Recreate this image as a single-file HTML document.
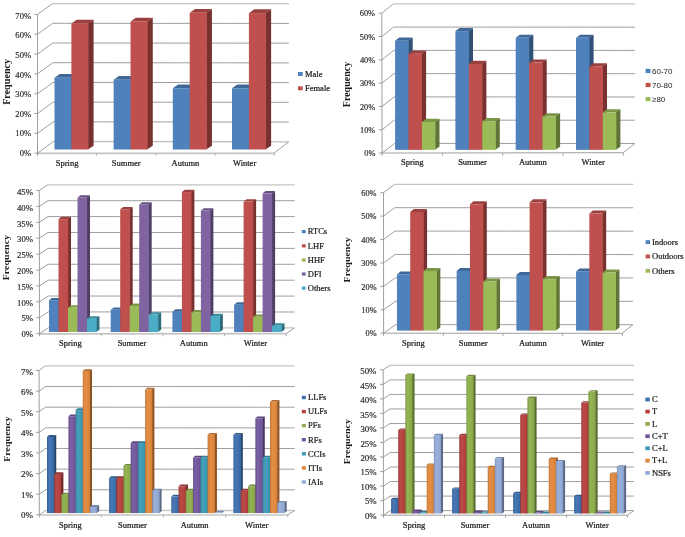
<!DOCTYPE html>
<html><head><meta charset="utf-8"><title>Charts</title>
<style>html,body{margin:0;padding:0;background:#fff;}svg{display:block;}</style>
</head><body>
<svg width="685" height="537" viewBox="0 0 685 537">
<defs><linearGradient id="g4_0" x1="0" x2="1" y1="0" y2="0"><stop offset="0" stop-color="#366299"/><stop offset="0.3" stop-color="#4978b3"/><stop offset="0.75" stop-color="#3d6fae"/><stop offset="1" stop-color="#37649d"/></linearGradient>
<linearGradient id="g4_1" x1="0" x2="1" y1="0" y2="0"><stop offset="0" stop-color="#9f3937"/><stop offset="0.3" stop-color="#b94c4a"/><stop offset="0.75" stop-color="#b5413e"/><stop offset="1" stop-color="#a33a38"/></linearGradient>
<linearGradient id="g4_2" x1="0" x2="1" y1="0" y2="0"><stop offset="0" stop-color="#7c9942"/><stop offset="0.3" stop-color="#94b356"/><stop offset="0.75" stop-color="#8dae4b"/><stop offset="1" stop-color="#7f9d44"/></linearGradient>
<linearGradient id="g4_3" x1="0" x2="1" y1="0" y2="0"><stop offset="0" stop-color="#654d8a"/><stop offset="0.3" stop-color="#7b61a3"/><stop offset="0.75" stop-color="#73579d"/><stop offset="1" stop-color="#684e8d"/></linearGradient>
<linearGradient id="g4_4" x1="0" x2="1" y1="0" y2="0"><stop offset="0" stop-color="#3488a0"/><stop offset="0.3" stop-color="#47a0ba"/><stop offset="0.75" stop-color="#3b9ab6"/><stop offset="1" stop-color="#358ba4"/></linearGradient>
<linearGradient id="g4_5" x1="0" x2="1" y1="0" y2="0"><stop offset="0" stop-color="#c57835"/><stop offset="0.3" stop-color="#e28f48"/><stop offset="0.75" stop-color="#e0883c"/><stop offset="1" stop-color="#ca7a36"/></linearGradient>
<linearGradient id="g4_6" x1="0" x2="1" y1="0" y2="0"><stop offset="0" stop-color="#8296be"/><stop offset="0.3" stop-color="#9ab0da"/><stop offset="0.75" stop-color="#94abd8"/><stop offset="1" stop-color="#859ac2"/></linearGradient>
<linearGradient id="g5_0" x1="0" x2="1" y1="0" y2="0"><stop offset="0" stop-color="#366299"/><stop offset="0.3" stop-color="#4978b3"/><stop offset="0.75" stop-color="#3d6fae"/><stop offset="1" stop-color="#37649d"/></linearGradient>
<linearGradient id="g5_1" x1="0" x2="1" y1="0" y2="0"><stop offset="0" stop-color="#9f3937"/><stop offset="0.3" stop-color="#b94c4a"/><stop offset="0.75" stop-color="#b5413e"/><stop offset="1" stop-color="#a33a38"/></linearGradient>
<linearGradient id="g5_2" x1="0" x2="1" y1="0" y2="0"><stop offset="0" stop-color="#7c9942"/><stop offset="0.3" stop-color="#94b356"/><stop offset="0.75" stop-color="#8dae4b"/><stop offset="1" stop-color="#7f9d44"/></linearGradient>
<linearGradient id="g5_3" x1="0" x2="1" y1="0" y2="0"><stop offset="0" stop-color="#654d8a"/><stop offset="0.3" stop-color="#7b61a3"/><stop offset="0.75" stop-color="#73579d"/><stop offset="1" stop-color="#684e8d"/></linearGradient>
<linearGradient id="g5_4" x1="0" x2="1" y1="0" y2="0"><stop offset="0" stop-color="#3488a0"/><stop offset="0.3" stop-color="#47a0ba"/><stop offset="0.75" stop-color="#3b9ab6"/><stop offset="1" stop-color="#358ba4"/></linearGradient>
<linearGradient id="g5_5" x1="0" x2="1" y1="0" y2="0"><stop offset="0" stop-color="#c57835"/><stop offset="0.3" stop-color="#e28f48"/><stop offset="0.75" stop-color="#e0883c"/><stop offset="1" stop-color="#ca7a36"/></linearGradient>
<linearGradient id="g5_6" x1="0" x2="1" y1="0" y2="0"><stop offset="0" stop-color="#8296be"/><stop offset="0.3" stop-color="#9ab0da"/><stop offset="0.75" stop-color="#94abd8"/><stop offset="1" stop-color="#859ac2"/></linearGradient></defs>
<rect width="685" height="537" fill="#ffffff"/>
<g><polygon points="37.50,153.20 274.20,153.10 288.70,141.80 53.50,141.50" fill="#ffffff"/>
<path d="M53.50 141.50 L288.70 141.80" stroke="#c4c4c4" stroke-width="1.30" fill="none"/>
<path d="M37.50 153.40 L274.20 153.30" stroke="#c4c4c4" stroke-width="1.70" fill="none"/>
<path d="M274.20 153.10 L288.70 141.80" stroke="#949494" stroke-width="0.90" fill="none"/>
<path d="M37.50 155.80 L37.50 14.40" stroke="#949494" stroke-width="0.90" fill="none"/>
<path d="M34.30 153.20 L37.50 153.20" stroke="#949494" stroke-width="0.90" fill="none"/>
<path d="M37.50 153.20 L53.50 141.50" stroke="#949494" stroke-width="0.90" fill="none"/>
<text x="31.10" y="156.14" text-anchor="end" font-family='"Liberation Serif", serif' font-size="8.60" fill="#2a2a2a" stroke="#2a2a2a" stroke-width="0.18">0%</text>
<path d="M34.30 133.37 L37.50 133.37" stroke="#949494" stroke-width="0.90" fill="none"/>
<path d="M37.50 133.37 L53.34 121.80 L288.74 122.07" stroke="#949494" stroke-width="0.90" fill="none" stroke-linejoin="round"/>
<text x="31.10" y="136.48" text-anchor="end" font-family='"Liberation Serif", serif' font-size="8.60" fill="#2a2a2a" stroke="#2a2a2a" stroke-width="0.18">10%</text>
<path d="M34.30 113.54 L37.50 113.54" stroke="#949494" stroke-width="0.90" fill="none"/>
<path d="M37.50 113.54 L53.19 102.10 L288.79 102.34" stroke="#949494" stroke-width="0.90" fill="none" stroke-linejoin="round"/>
<text x="31.10" y="116.82" text-anchor="end" font-family='"Liberation Serif", serif' font-size="8.60" fill="#2a2a2a" stroke="#2a2a2a" stroke-width="0.18">20%</text>
<path d="M34.30 93.71 L37.50 93.71" stroke="#949494" stroke-width="0.90" fill="none"/>
<path d="M37.50 93.71 L53.03 82.40 L288.83 82.61" stroke="#949494" stroke-width="0.90" fill="none" stroke-linejoin="round"/>
<text x="31.10" y="97.17" text-anchor="end" font-family='"Liberation Serif", serif' font-size="8.60" fill="#2a2a2a" stroke="#2a2a2a" stroke-width="0.18">30%</text>
<path d="M34.30 73.89 L37.50 73.89" stroke="#949494" stroke-width="0.90" fill="none"/>
<path d="M37.50 73.89 L52.87 62.70 L288.87 62.89" stroke="#949494" stroke-width="0.90" fill="none" stroke-linejoin="round"/>
<text x="31.10" y="77.51" text-anchor="end" font-family='"Liberation Serif", serif' font-size="8.60" fill="#2a2a2a" stroke="#2a2a2a" stroke-width="0.18">40%</text>
<path d="M34.30 54.06 L37.50 54.06" stroke="#949494" stroke-width="0.90" fill="none"/>
<path d="M37.50 54.06 L52.71 43.00 L288.91 43.16" stroke="#949494" stroke-width="0.90" fill="none" stroke-linejoin="round"/>
<text x="31.10" y="57.85" text-anchor="end" font-family='"Liberation Serif", serif' font-size="8.60" fill="#2a2a2a" stroke="#2a2a2a" stroke-width="0.18">50%</text>
<path d="M34.30 34.23 L37.50 34.23" stroke="#949494" stroke-width="0.90" fill="none"/>
<path d="M37.50 34.23 L52.56 23.30 L288.96 23.43" stroke="#949494" stroke-width="0.90" fill="none" stroke-linejoin="round"/>
<text x="31.10" y="38.20" text-anchor="end" font-family='"Liberation Serif", serif' font-size="8.60" fill="#2a2a2a" stroke="#2a2a2a" stroke-width="0.18">60%</text>
<path d="M34.30 14.40 L37.50 14.40" stroke="#949494" stroke-width="0.90" fill="none"/>
<path d="M37.50 14.40 L52.40 3.60" stroke="#949494" stroke-width="0.90" fill="none"/>
<path d="M52.40 3.60 L289.00 3.70" stroke="#c4c4c4" stroke-width="1.30" fill="none"/>
<text x="31.10" y="18.54" text-anchor="end" font-family='"Liberation Serif", serif' font-size="8.60" fill="#2a2a2a" stroke="#2a2a2a" stroke-width="0.18">70%</text>
<path d="M96.67 153.20 L96.67 155.80" stroke="#aaaaaa" stroke-width="0.90" fill="none"/>
<path d="M155.85 153.20 L155.85 155.80" stroke="#aaaaaa" stroke-width="0.90" fill="none"/>
<path d="M215.02 153.20 L215.02 155.80" stroke="#aaaaaa" stroke-width="0.90" fill="none"/>
<path d="M274.20 153.20 L274.20 155.80" stroke="#aaaaaa" stroke-width="0.90" fill="none"/>
<text x="67.09" y="165.70" text-anchor="middle" font-family='"Liberation Serif", serif' font-size="8.50" fill="#1a1a1a" stroke="#1a1a1a" stroke-width="0.22">Spring</text>
<text x="126.26" y="165.70" text-anchor="middle" font-family='"Liberation Serif", serif' font-size="8.50" fill="#1a1a1a" stroke="#1a1a1a" stroke-width="0.22">Summer</text>
<text x="185.44" y="165.70" text-anchor="middle" font-family='"Liberation Serif", serif' font-size="8.50" fill="#1a1a1a" stroke="#1a1a1a" stroke-width="0.22">Autumn</text>
<text x="244.61" y="165.70" text-anchor="middle" font-family='"Liberation Serif", serif' font-size="8.50" fill="#1a1a1a" stroke="#1a1a1a" stroke-width="0.22">Winter</text>
<polygon points="70.99,149.50 76.69,145.70 76.69,73.97 70.99,77.77" fill="#315075"/>
<polygon points="54.48,77.77 71.39,77.77 76.69,73.97 59.78,73.97" fill="#3f6797"/>
<rect x="54.48" y="77.77" width="17.06" height="71.73" fill="#4f81bd"/>
<polygon points="87.89,149.50 93.59,145.70 93.59,19.63 87.89,23.43" fill="#773230"/>
<polygon points="71.39,23.43 88.29,23.43 93.59,19.63 76.69,19.63" fill="#9a403e"/>
<rect x="71.39" y="23.43" width="17.06" height="126.07" fill="#c0504d"/>
<polygon points="130.16,149.50 135.86,145.70 135.86,75.95 130.16,79.75" fill="#315075"/>
<polygon points="113.66,79.75 130.56,79.75 135.86,75.95 118.96,75.95" fill="#3f6797"/>
<rect x="113.66" y="79.75" width="17.06" height="69.75" fill="#4f81bd"/>
<polygon points="147.07,149.50 152.77,145.70 152.77,17.66 147.07,21.46" fill="#773230"/>
<polygon points="130.56,21.46 147.47,21.46 152.77,17.66 135.86,17.66" fill="#9a403e"/>
<rect x="130.56" y="21.46" width="17.06" height="128.04" fill="#c0504d"/>
<polygon points="189.34,149.50 195.04,145.70 195.04,84.44 189.34,88.24" fill="#315075"/>
<polygon points="172.83,88.24 189.74,88.24 195.04,84.44 178.13,84.44" fill="#3f6797"/>
<rect x="172.83" y="88.24" width="17.06" height="61.26" fill="#4f81bd"/>
<polygon points="206.24,149.50 211.94,145.70 211.94,8.96 206.24,12.76" fill="#773230"/>
<polygon points="189.74,12.76 206.64,12.76 211.94,8.96 195.04,8.96" fill="#9a403e"/>
<rect x="189.74" y="12.76" width="17.06" height="136.74" fill="#c0504d"/>
<polygon points="248.51,149.50 254.21,145.70 254.21,84.44 248.51,88.24" fill="#315075"/>
<polygon points="232.01,88.24 248.91,88.24 254.21,84.44 237.31,84.44" fill="#3f6797"/>
<rect x="232.01" y="88.24" width="17.06" height="61.26" fill="#4f81bd"/>
<polygon points="265.42,149.50 271.12,145.70 271.12,9.36 265.42,13.16" fill="#773230"/>
<polygon points="248.91,13.16 265.82,13.16 271.12,9.36 254.21,9.36" fill="#9a403e"/>
<rect x="248.91" y="13.16" width="17.06" height="136.34" fill="#c0504d"/>
<rect x="298.00" y="72.00" width="4.70" height="4.00" fill="#4f81bd"/>
<text x="305.00" y="76.80" font-family='"Liberation Serif", serif' font-size="8.50" fill="#1a1a1a" stroke="#1a1a1a" stroke-width="0.22">Male</text>
<rect x="298.00" y="86.30" width="4.70" height="4.00" fill="#c0504d"/>
<text x="305.00" y="91.10" font-family='"Liberation Serif", serif' font-size="8.50" fill="#1a1a1a" stroke="#1a1a1a" stroke-width="0.22">Female</text>
<text transform="translate(10.20 81.90) rotate(-90) scale(1 1.00)" text-anchor="middle" font-family='"Liberation Serif", serif' font-size="10.15" font-weight="bold" fill="#1a1a1a">Frequency</text></g>
<g><polygon points="382.10,153.05 623.30,152.70 634.80,143.50 394.60,143.40" fill="#ffffff"/>
<path d="M394.60 143.40 L634.80 143.50" stroke="#949494" stroke-width="0.90" fill="none"/>
<path d="M382.10 153.05 L623.30 152.70" stroke="#949494" stroke-width="0.90" fill="none"/>
<path d="M623.30 152.70 L634.80 143.50" stroke="#949494" stroke-width="0.90" fill="none"/>
<path d="M382.10 155.65 L381.80 13.20" stroke="#949494" stroke-width="0.90" fill="none"/>
<path d="M378.90 153.05 L382.10 153.05" stroke="#949494" stroke-width="0.90" fill="none"/>
<path d="M382.10 153.05 L394.60 143.40" stroke="#949494" stroke-width="0.90" fill="none"/>
<text x="375.30" y="156.29" text-anchor="end" font-family='"Liberation Serif", serif' font-size="8.30" fill="#2a2a2a" stroke="#2a2a2a" stroke-width="0.18">0%</text>
<path d="M378.85 129.74 L382.05 129.74" stroke="#949494" stroke-width="0.90" fill="none"/>
<path d="M382.05 129.74 L394.40 120.13 L634.83 120.23" stroke="#949494" stroke-width="0.90" fill="none" stroke-linejoin="round"/>
<text x="375.25" y="132.98" text-anchor="end" font-family='"Liberation Serif", serif' font-size="8.30" fill="#2a2a2a" stroke="#2a2a2a" stroke-width="0.18">10%</text>
<path d="M378.80 106.43 L382.00 106.43" stroke="#949494" stroke-width="0.90" fill="none"/>
<path d="M382.00 106.43 L394.20 96.87 L634.87 96.97" stroke="#949494" stroke-width="0.90" fill="none" stroke-linejoin="round"/>
<text x="375.20" y="109.67" text-anchor="end" font-family='"Liberation Serif", serif' font-size="8.30" fill="#2a2a2a" stroke="#2a2a2a" stroke-width="0.18">20%</text>
<path d="M378.75 83.12 L381.95 83.12" stroke="#949494" stroke-width="0.90" fill="none"/>
<path d="M381.95 83.12 L394.00 73.60 L634.90 73.70" stroke="#949494" stroke-width="0.90" fill="none" stroke-linejoin="round"/>
<text x="375.15" y="86.36" text-anchor="end" font-family='"Liberation Serif", serif' font-size="8.30" fill="#2a2a2a" stroke="#2a2a2a" stroke-width="0.18">30%</text>
<path d="M378.70 59.82 L381.90 59.82" stroke="#949494" stroke-width="0.90" fill="none"/>
<path d="M381.90 59.82 L393.80 50.33 L634.93 50.43" stroke="#949494" stroke-width="0.90" fill="none" stroke-linejoin="round"/>
<text x="375.10" y="63.06" text-anchor="end" font-family='"Liberation Serif", serif' font-size="8.30" fill="#2a2a2a" stroke="#2a2a2a" stroke-width="0.18">40%</text>
<path d="M378.65 36.51 L381.85 36.51" stroke="#949494" stroke-width="0.90" fill="none"/>
<path d="M381.85 36.51 L393.60 27.07 L634.97 27.17" stroke="#949494" stroke-width="0.90" fill="none" stroke-linejoin="round"/>
<text x="375.05" y="39.75" text-anchor="end" font-family='"Liberation Serif", serif' font-size="8.30" fill="#2a2a2a" stroke="#2a2a2a" stroke-width="0.18">50%</text>
<path d="M378.60 13.20 L381.80 13.20" stroke="#949494" stroke-width="0.90" fill="none"/>
<path d="M381.80 13.20 L393.40 3.80" stroke="#949494" stroke-width="0.90" fill="none"/>
<path d="M393.40 3.80 L635.00 3.90" stroke="#c4c4c4" stroke-width="1.30" fill="none"/>
<text x="375.00" y="16.44" text-anchor="end" font-family='"Liberation Serif", serif' font-size="8.30" fill="#2a2a2a" stroke="#2a2a2a" stroke-width="0.18">60%</text>
<path d="M442.40 153.05 L442.40 155.65" stroke="#949494" stroke-width="0.90" fill="none"/>
<path d="M502.70 153.05 L502.70 155.65" stroke="#949494" stroke-width="0.90" fill="none"/>
<path d="M563.00 153.05 L563.00 155.65" stroke="#949494" stroke-width="0.90" fill="none"/>
<path d="M623.30 153.05 L623.30 155.65" stroke="#949494" stroke-width="0.90" fill="none"/>
<text x="412.25" y="165.30" text-anchor="middle" font-family='"Liberation Serif", serif' font-size="8.50" fill="#1a1a1a" stroke="#1a1a1a" stroke-width="0.22">Spring</text>
<text x="472.55" y="165.30" text-anchor="middle" font-family='"Liberation Serif", serif' font-size="8.50" fill="#1a1a1a" stroke="#1a1a1a" stroke-width="0.22">Summer</text>
<text x="532.85" y="165.30" text-anchor="middle" font-family='"Liberation Serif", serif' font-size="8.50" fill="#1a1a1a" stroke="#1a1a1a" stroke-width="0.22">Autumn</text>
<text x="593.15" y="165.30" text-anchor="middle" font-family='"Liberation Serif", serif' font-size="8.50" fill="#1a1a1a" stroke="#1a1a1a" stroke-width="0.22">Winter</text>
<polygon points="408.10,149.85 412.70,146.75 412.70,37.57 408.10,40.67" fill="#315075"/>
<polygon points="395.10,40.67 408.50,40.67 412.70,37.57 399.30,37.57" fill="#3f6797"/>
<rect x="395.10" y="40.67" width="13.55" height="109.18" fill="#4f81bd"/>
<polygon points="421.50,149.85 426.10,146.75 426.10,50.60 421.50,53.70" fill="#773230"/>
<polygon points="408.50,53.70 421.90,53.70 426.10,50.60 412.70,50.60" fill="#9a403e"/>
<rect x="408.50" y="53.70" width="13.55" height="96.15" fill="#c0504d"/>
<polygon points="434.90,149.85 439.50,146.75 439.50,118.81 434.90,121.91" fill="#607437"/>
<polygon points="421.90,121.91 435.30,121.91 439.50,118.81 426.10,118.81" fill="#7c9647"/>
<rect x="421.90" y="121.91" width="13.55" height="27.94" fill="#9bbb59"/>
<polygon points="468.40,149.85 473.00,146.75 473.00,28.02 468.40,31.12" fill="#315075"/>
<polygon points="455.40,31.12 468.80,31.12 473.00,28.02 459.60,28.02" fill="#3f6797"/>
<rect x="455.40" y="31.12" width="13.55" height="118.73" fill="#4f81bd"/>
<polygon points="481.80,149.85 486.40,146.75 486.40,60.85 481.80,63.95" fill="#773230"/>
<polygon points="468.80,63.95 482.20,63.95 486.40,60.85 473.00,60.85" fill="#9a403e"/>
<rect x="468.80" y="63.95" width="13.55" height="85.90" fill="#c0504d"/>
<polygon points="495.20,149.85 499.80,146.75 499.80,118.12 495.20,121.22" fill="#607437"/>
<polygon points="482.20,121.22 495.60,121.22 499.80,118.12 486.40,118.12" fill="#7c9647"/>
<rect x="482.20" y="121.22" width="13.55" height="28.63" fill="#9bbb59"/>
<polygon points="528.70,149.85 533.30,146.75 533.30,34.77 528.70,37.87" fill="#315075"/>
<polygon points="515.70,37.87 529.10,37.87 533.30,34.77 519.90,34.77" fill="#3f6797"/>
<rect x="515.70" y="37.87" width="13.55" height="111.98" fill="#4f81bd"/>
<polygon points="542.10,149.85 546.70,146.75 546.70,59.45 542.10,62.55" fill="#773230"/>
<polygon points="529.10,62.55 542.50,62.55 546.70,59.45 533.30,59.45" fill="#9a403e"/>
<rect x="529.10" y="62.55" width="13.55" height="87.30" fill="#c0504d"/>
<polygon points="555.50,149.85 560.10,146.75 560.10,113.23 555.50,116.33" fill="#607437"/>
<polygon points="542.50,116.33 555.90,116.33 560.10,113.23 546.70,113.23" fill="#7c9647"/>
<rect x="542.50" y="116.33" width="13.55" height="33.52" fill="#9bbb59"/>
<polygon points="589.00,149.85 593.60,146.75 593.60,34.77 589.00,37.87" fill="#315075"/>
<polygon points="576.00,37.87 589.40,37.87 593.60,34.77 580.20,34.77" fill="#3f6797"/>
<rect x="576.00" y="37.87" width="13.55" height="111.98" fill="#4f81bd"/>
<polygon points="602.40,149.85 607.00,146.75 607.00,63.17 602.40,66.27" fill="#773230"/>
<polygon points="589.40,66.27 602.80,66.27 607.00,63.17 593.60,63.17" fill="#9a403e"/>
<rect x="589.40" y="66.27" width="13.55" height="83.58" fill="#c0504d"/>
<polygon points="615.80,149.85 620.40,146.75 620.40,109.27 615.80,112.37" fill="#607437"/>
<polygon points="602.80,112.37 616.20,112.37 620.40,109.27 607.00,109.27" fill="#7c9647"/>
<rect x="602.80" y="112.37" width="13.55" height="37.48" fill="#9bbb59"/>
<rect x="645.60" y="68.80" width="4.90" height="4.20" fill="#4f81bd"/>
<text x="652.00" y="73.70" font-family='"Liberation Sans", sans-serif' font-size="8.00" fill="#1a1a1a" stroke="#1a1a1a" stroke-width="0.00">60-70</text>
<rect x="645.60" y="82.90" width="4.90" height="4.20" fill="#c0504d"/>
<text x="652.00" y="87.80" font-family='"Liberation Sans", sans-serif' font-size="8.00" fill="#1a1a1a" stroke="#1a1a1a" stroke-width="0.00">70-80</text>
<rect x="645.60" y="97.00" width="4.90" height="4.20" fill="#9bbb59"/>
<text x="652.00" y="101.90" font-family='"Liberation Sans", sans-serif' font-size="8.00" fill="#1a1a1a" stroke="#1a1a1a" stroke-width="0.00">≥80</text>
<text transform="translate(350.30 84.50) rotate(-90) scale(1 1.00)" text-anchor="middle" font-family='"Liberation Serif", serif' font-size="10.00" font-weight="bold" fill="#1a1a1a">Frequency</text></g>
<g><polygon points="39.50,333.60 286.30,333.50 294.50,327.90 48.40,327.80" fill="#ffffff"/>
<path d="M48.40 327.80 L294.50 327.90" stroke="#c4c4c4" stroke-width="1.30" fill="none"/>
<path d="M39.50 333.80 L286.30 333.70" stroke="#c4c4c4" stroke-width="1.70" fill="none"/>
<path d="M286.30 333.50 L294.50 327.90" stroke="#949494" stroke-width="0.90" fill="none"/>
<path d="M39.50 336.20 L39.30 190.50" stroke="#949494" stroke-width="0.90" fill="none"/>
<path d="M36.30 333.60 L39.50 333.60" stroke="#949494" stroke-width="0.90" fill="none"/>
<path d="M39.50 333.60 L48.40 327.80" stroke="#949494" stroke-width="0.90" fill="none"/>
<text x="33.10" y="337.27" text-anchor="end" font-family='"Liberation Serif", serif' font-size="8.70" fill="#2a2a2a" stroke="#2a2a2a" stroke-width="0.18">0%</text>
<path d="M36.28 317.70 L39.48 317.70" stroke="#949494" stroke-width="0.90" fill="none"/>
<path d="M39.48 317.70 L48.33 311.91 L294.52 312.00" stroke="#949494" stroke-width="0.90" fill="none" stroke-linejoin="round"/>
<text x="33.08" y="321.45" text-anchor="end" font-family='"Liberation Serif", serif' font-size="8.70" fill="#2a2a2a" stroke="#2a2a2a" stroke-width="0.18">5%</text>
<path d="M36.26 301.80 L39.46 301.80" stroke="#949494" stroke-width="0.90" fill="none"/>
<path d="M39.46 301.80 L48.27 296.02 L294.54 296.10" stroke="#949494" stroke-width="0.90" fill="none" stroke-linejoin="round"/>
<text x="33.06" y="305.63" text-anchor="end" font-family='"Liberation Serif", serif' font-size="8.70" fill="#2a2a2a" stroke="#2a2a2a" stroke-width="0.18">10%</text>
<path d="M36.23 285.90 L39.43 285.90" stroke="#949494" stroke-width="0.90" fill="none"/>
<path d="M39.43 285.90 L48.20 280.13 L294.57 280.20" stroke="#949494" stroke-width="0.90" fill="none" stroke-linejoin="round"/>
<text x="33.03" y="289.80" text-anchor="end" font-family='"Liberation Serif", serif' font-size="8.70" fill="#2a2a2a" stroke="#2a2a2a" stroke-width="0.18">15%</text>
<path d="M36.21 270.00 L39.41 270.00" stroke="#949494" stroke-width="0.90" fill="none"/>
<path d="M39.41 270.00 L48.13 264.24 L294.59 264.30" stroke="#949494" stroke-width="0.90" fill="none" stroke-linejoin="round"/>
<text x="33.01" y="273.98" text-anchor="end" font-family='"Liberation Serif", serif' font-size="8.70" fill="#2a2a2a" stroke="#2a2a2a" stroke-width="0.18">20%</text>
<path d="M36.19 254.10 L39.39 254.10" stroke="#949494" stroke-width="0.90" fill="none"/>
<path d="M39.39 254.10 L48.07 248.36 L294.61 248.40" stroke="#949494" stroke-width="0.90" fill="none" stroke-linejoin="round"/>
<text x="32.99" y="258.16" text-anchor="end" font-family='"Liberation Serif", serif' font-size="8.70" fill="#2a2a2a" stroke="#2a2a2a" stroke-width="0.18">25%</text>
<path d="M36.17 238.20 L39.37 238.20" stroke="#949494" stroke-width="0.90" fill="none"/>
<path d="M39.37 238.20 L48.00 232.47 L294.63 232.50" stroke="#949494" stroke-width="0.90" fill="none" stroke-linejoin="round"/>
<text x="32.97" y="242.34" text-anchor="end" font-family='"Liberation Serif", serif' font-size="8.70" fill="#2a2a2a" stroke="#2a2a2a" stroke-width="0.18">30%</text>
<path d="M36.14 222.30 L39.34 222.30" stroke="#949494" stroke-width="0.90" fill="none"/>
<path d="M39.34 222.30 L47.93 216.58 L294.66 216.60" stroke="#949494" stroke-width="0.90" fill="none" stroke-linejoin="round"/>
<text x="32.94" y="226.52" text-anchor="end" font-family='"Liberation Serif", serif' font-size="8.70" fill="#2a2a2a" stroke="#2a2a2a" stroke-width="0.18">35%</text>
<path d="M36.12 206.40 L39.32 206.40" stroke="#949494" stroke-width="0.90" fill="none"/>
<path d="M39.32 206.40 L47.87 200.69 L294.68 200.70" stroke="#949494" stroke-width="0.90" fill="none" stroke-linejoin="round"/>
<text x="32.92" y="210.69" text-anchor="end" font-family='"Liberation Serif", serif' font-size="8.70" fill="#2a2a2a" stroke="#2a2a2a" stroke-width="0.18">40%</text>
<path d="M36.10 190.50 L39.30 190.50" stroke="#949494" stroke-width="0.90" fill="none"/>
<path d="M39.30 190.50 L47.80 184.80" stroke="#949494" stroke-width="0.90" fill="none"/>
<path d="M47.80 184.80 L294.70 184.80" stroke="#c4c4c4" stroke-width="1.30" fill="none"/>
<text x="32.90" y="194.87" text-anchor="end" font-family='"Liberation Serif", serif' font-size="8.70" fill="#2a2a2a" stroke="#2a2a2a" stroke-width="0.18">45%</text>
<path d="M101.20 333.60 L101.20 336.20" stroke="#aaaaaa" stroke-width="0.90" fill="none"/>
<path d="M162.90 333.60 L162.90 336.20" stroke="#aaaaaa" stroke-width="0.90" fill="none"/>
<path d="M224.60 333.60 L224.60 336.20" stroke="#aaaaaa" stroke-width="0.90" fill="none"/>
<path d="M286.30 333.60 L286.30 336.20" stroke="#aaaaaa" stroke-width="0.90" fill="none"/>
<text x="70.35" y="346.20" text-anchor="middle" font-family='"Liberation Serif", serif' font-size="8.50" fill="#1a1a1a" stroke="#1a1a1a" stroke-width="0.22">Spring</text>
<text x="132.05" y="346.20" text-anchor="middle" font-family='"Liberation Serif", serif' font-size="8.50" fill="#1a1a1a" stroke="#1a1a1a" stroke-width="0.22">Summer</text>
<text x="193.75" y="346.20" text-anchor="middle" font-family='"Liberation Serif", serif' font-size="8.50" fill="#1a1a1a" stroke="#1a1a1a" stroke-width="0.22">Autumn</text>
<text x="255.45" y="346.20" text-anchor="middle" font-family='"Liberation Serif", serif' font-size="8.50" fill="#1a1a1a" stroke="#1a1a1a" stroke-width="0.22">Winter</text>
<polygon points="58.11,332.00 61.51,329.70 61.51,297.90 58.11,300.20" fill="#315075"/>
<polygon points="49.02,300.20 58.51,300.20 61.51,297.90 52.02,297.90" fill="#3f6797"/>
<rect x="49.02" y="300.20" width="9.64" height="31.80" fill="#4f81bd"/>
<polygon points="67.60,332.00 71.00,329.70 71.00,216.81 67.60,219.11" fill="#773230"/>
<polygon points="58.51,219.11 68.00,219.11 71.00,216.81 61.51,216.81" fill="#9a403e"/>
<rect x="58.51" y="219.11" width="9.64" height="112.89" fill="#c0504d"/>
<polygon points="77.10,332.00 80.50,329.70 80.50,305.21 77.10,307.51" fill="#607437"/>
<polygon points="68.00,307.51 77.50,307.51 80.50,305.21 71.00,305.21" fill="#7c9647"/>
<rect x="68.00" y="307.51" width="9.64" height="24.49" fill="#9bbb59"/>
<polygon points="86.59,332.00 89.99,329.70 89.99,195.19 86.59,197.49" fill="#4f3e64"/>
<polygon points="77.50,197.49 86.99,197.49 89.99,195.19 80.50,195.19" fill="#665082"/>
<rect x="77.50" y="197.49" width="9.64" height="134.51" fill="#8064a2"/>
<polygon points="96.08,332.00 99.48,329.70 99.48,316.34 96.08,318.64" fill="#2e6b7b"/>
<polygon points="86.99,318.64 96.48,318.64 99.48,316.34 89.99,316.34" fill="#3c8a9e"/>
<rect x="86.99" y="318.64" width="9.64" height="13.36" fill="#4bacc6"/>
<polygon points="119.81,332.00 123.21,329.70 123.21,307.44 119.81,309.74" fill="#315075"/>
<polygon points="110.72,309.74 120.21,309.74 123.21,307.44 113.72,307.44" fill="#3f6797"/>
<rect x="110.72" y="309.74" width="9.64" height="22.26" fill="#4f81bd"/>
<polygon points="129.30,332.00 132.70,329.70 132.70,206.95 129.30,209.25" fill="#773230"/>
<polygon points="120.21,209.25 129.70,209.25 132.70,206.95 123.21,206.95" fill="#9a403e"/>
<rect x="120.21" y="209.25" width="9.64" height="122.75" fill="#c0504d"/>
<polygon points="138.80,332.00 142.20,329.70 142.20,303.62 138.80,305.92" fill="#607437"/>
<polygon points="129.70,305.92 139.20,305.92 142.20,303.62 132.70,303.62" fill="#7c9647"/>
<rect x="129.70" y="305.92" width="9.64" height="26.08" fill="#9bbb59"/>
<polygon points="148.29,332.00 151.69,329.70 151.69,202.18 148.29,204.48" fill="#4f3e64"/>
<polygon points="139.20,204.48 148.69,204.48 151.69,202.18 142.20,202.18" fill="#665082"/>
<rect x="139.20" y="204.48" width="9.64" height="127.52" fill="#8064a2"/>
<polygon points="157.78,332.00 161.18,329.70 161.18,312.21 157.78,314.51" fill="#2e6b7b"/>
<polygon points="148.69,314.51 158.18,314.51 161.18,312.21 151.69,312.21" fill="#3c8a9e"/>
<rect x="148.69" y="314.51" width="9.64" height="17.49" fill="#4bacc6"/>
<polygon points="181.51,332.00 184.91,329.70 184.91,309.35 181.51,311.65" fill="#315075"/>
<polygon points="172.42,311.65 181.91,311.65 184.91,309.35 175.42,309.35" fill="#3f6797"/>
<rect x="172.42" y="311.65" width="9.64" height="20.35" fill="#4f81bd"/>
<polygon points="191.00,332.00 194.40,329.70 194.40,189.78 191.00,192.08" fill="#773230"/>
<polygon points="181.91,192.08 191.40,192.08 194.40,189.78 184.91,189.78" fill="#9a403e"/>
<rect x="181.91" y="192.08" width="9.64" height="139.92" fill="#c0504d"/>
<polygon points="200.50,332.00 203.90,329.70 203.90,309.98 200.50,312.28" fill="#607437"/>
<polygon points="191.40,312.28 200.90,312.28 203.90,309.98 194.40,309.98" fill="#7c9647"/>
<rect x="191.40" y="312.28" width="9.64" height="19.72" fill="#9bbb59"/>
<polygon points="209.99,332.00 213.39,329.70 213.39,208.22 209.99,210.52" fill="#4f3e64"/>
<polygon points="200.90,210.52 210.39,210.52 213.39,208.22 203.90,208.22" fill="#665082"/>
<rect x="200.90" y="210.52" width="9.64" height="121.48" fill="#8064a2"/>
<polygon points="219.48,332.00 222.88,329.70 222.88,313.80 219.48,316.10" fill="#2e6b7b"/>
<polygon points="210.39,316.10 219.88,316.10 222.88,313.80 213.39,313.80" fill="#3c8a9e"/>
<rect x="210.39" y="316.10" width="9.64" height="15.90" fill="#4bacc6"/>
<polygon points="243.21,332.00 246.61,329.70 246.61,302.35 243.21,304.65" fill="#315075"/>
<polygon points="234.12,304.65 243.61,304.65 246.61,302.35 237.12,302.35" fill="#3f6797"/>
<rect x="234.12" y="304.65" width="9.64" height="27.35" fill="#4f81bd"/>
<polygon points="252.70,332.00 256.10,329.70 256.10,199.32 252.70,201.62" fill="#773230"/>
<polygon points="243.61,201.62 253.10,201.62 256.10,199.32 246.61,199.32" fill="#9a403e"/>
<rect x="243.61" y="201.62" width="9.64" height="130.38" fill="#c0504d"/>
<polygon points="262.20,332.00 265.60,329.70 265.60,314.44 262.20,316.74" fill="#607437"/>
<polygon points="253.10,316.74 262.60,316.74 265.60,314.44 256.10,314.44" fill="#7c9647"/>
<rect x="253.10" y="316.74" width="9.64" height="15.26" fill="#9bbb59"/>
<polygon points="271.69,332.00 275.09,329.70 275.09,191.05 271.69,193.35" fill="#4f3e64"/>
<polygon points="262.60,193.35 272.09,193.35 275.09,191.05 265.60,191.05" fill="#665082"/>
<rect x="262.60" y="193.35" width="9.64" height="138.65" fill="#8064a2"/>
<polygon points="281.18,332.00 284.58,329.70 284.58,323.34 281.18,325.64" fill="#2e6b7b"/>
<polygon points="272.09,325.64 281.58,325.64 284.58,323.34 275.09,323.34" fill="#3c8a9e"/>
<rect x="272.09" y="325.64" width="9.64" height="6.36" fill="#4bacc6"/>
<rect x="301.80" y="230.00" width="3.90" height="3.20" fill="#4f81bd"/>
<text x="307.80" y="234.40" font-family='"Liberation Serif", serif' font-size="8.50" fill="#1a1a1a" stroke="#1a1a1a" stroke-width="0.22">RTCs</text>
<rect x="301.80" y="244.30" width="3.90" height="3.20" fill="#c0504d"/>
<text x="307.80" y="248.70" font-family='"Liberation Serif", serif' font-size="8.50" fill="#1a1a1a" stroke="#1a1a1a" stroke-width="0.22">LHF</text>
<rect x="301.80" y="258.40" width="3.90" height="3.20" fill="#9bbb59"/>
<text x="307.80" y="262.80" font-family='"Liberation Serif", serif' font-size="8.50" fill="#1a1a1a" stroke="#1a1a1a" stroke-width="0.22">HHF</text>
<rect x="301.80" y="272.40" width="3.90" height="3.20" fill="#8064a2"/>
<text x="307.80" y="276.80" font-family='"Liberation Serif", serif' font-size="8.50" fill="#1a1a1a" stroke="#1a1a1a" stroke-width="0.22">DFI</text>
<rect x="301.80" y="286.50" width="3.90" height="3.20" fill="#4bacc6"/>
<text x="307.80" y="290.90" font-family='"Liberation Serif", serif' font-size="8.50" fill="#1a1a1a" stroke="#1a1a1a" stroke-width="0.22">Others</text>
<text transform="translate(9.40 257.60) rotate(-90) scale(1 0.90)" text-anchor="middle" font-family='"Liberation Serif", serif' font-size="10.00" font-weight="bold" fill="#1a1a1a">Frequency</text></g>
<g><polygon points="383.60,333.20 622.40,333.30 632.90,324.70 395.80,324.60" fill="#ffffff"/>
<path d="M395.80 324.60 L632.90 324.70" stroke="#949494" stroke-width="0.90" fill="none"/>
<path d="M383.60 333.20 L622.40 333.30" stroke="#949494" stroke-width="0.90" fill="none"/>
<path d="M622.40 333.30 L632.90 324.70" stroke="#949494" stroke-width="0.90" fill="none"/>
<path d="M383.60 335.80 L383.50 192.70" stroke="#949494" stroke-width="0.90" fill="none"/>
<path d="M380.40 333.20 L383.60 333.20" stroke="#949494" stroke-width="0.90" fill="none"/>
<path d="M383.60 333.20 L395.80 324.60" stroke="#949494" stroke-width="0.90" fill="none"/>
<text x="376.60" y="336.19" text-anchor="end" font-family='"Liberation Serif", serif' font-size="8.30" fill="#2a2a2a" stroke="#2a2a2a" stroke-width="0.18">0%</text>
<path d="M380.38 309.78 L383.58 309.78" stroke="#949494" stroke-width="0.90" fill="none"/>
<path d="M383.58 309.78 L395.60 301.22 L632.97 301.32" stroke="#949494" stroke-width="0.90" fill="none" stroke-linejoin="round"/>
<text x="376.58" y="312.85" text-anchor="end" font-family='"Liberation Serif", serif' font-size="8.30" fill="#2a2a2a" stroke="#2a2a2a" stroke-width="0.18">10%</text>
<path d="M380.37 286.37 L383.57 286.37" stroke="#949494" stroke-width="0.90" fill="none"/>
<path d="M383.57 286.37 L395.40 277.83 L633.03 277.93" stroke="#949494" stroke-width="0.90" fill="none" stroke-linejoin="round"/>
<text x="376.57" y="289.51" text-anchor="end" font-family='"Liberation Serif", serif' font-size="8.30" fill="#2a2a2a" stroke="#2a2a2a" stroke-width="0.18">20%</text>
<path d="M380.35 262.95 L383.55 262.95" stroke="#949494" stroke-width="0.90" fill="none"/>
<path d="M383.55 262.95 L395.20 254.45 L633.10 254.55" stroke="#949494" stroke-width="0.90" fill="none" stroke-linejoin="round"/>
<text x="376.55" y="266.16" text-anchor="end" font-family='"Liberation Serif", serif' font-size="8.30" fill="#2a2a2a" stroke="#2a2a2a" stroke-width="0.18">30%</text>
<path d="M380.33 239.53 L383.53 239.53" stroke="#949494" stroke-width="0.90" fill="none"/>
<path d="M383.53 239.53 L395.00 231.07 L633.17 231.17" stroke="#949494" stroke-width="0.90" fill="none" stroke-linejoin="round"/>
<text x="376.53" y="242.82" text-anchor="end" font-family='"Liberation Serif", serif' font-size="8.30" fill="#2a2a2a" stroke="#2a2a2a" stroke-width="0.18">40%</text>
<path d="M380.32 216.12 L383.52 216.12" stroke="#949494" stroke-width="0.90" fill="none"/>
<path d="M383.52 216.12 L394.80 207.68 L633.23 207.78" stroke="#949494" stroke-width="0.90" fill="none" stroke-linejoin="round"/>
<text x="376.52" y="219.48" text-anchor="end" font-family='"Liberation Serif", serif' font-size="8.30" fill="#2a2a2a" stroke="#2a2a2a" stroke-width="0.18">50%</text>
<path d="M380.30 192.70 L383.50 192.70" stroke="#949494" stroke-width="0.90" fill="none"/>
<path d="M383.50 192.70 L394.60 184.30" stroke="#949494" stroke-width="0.90" fill="none"/>
<path d="M394.60 184.30 L633.30 184.40" stroke="#c4c4c4" stroke-width="1.30" fill="none"/>
<text x="376.50" y="196.14" text-anchor="end" font-family='"Liberation Serif", serif' font-size="8.30" fill="#2a2a2a" stroke="#2a2a2a" stroke-width="0.18">60%</text>
<path d="M443.30 333.20 L443.30 335.80" stroke="#949494" stroke-width="0.90" fill="none"/>
<path d="M503.00 333.20 L503.00 335.80" stroke="#949494" stroke-width="0.90" fill="none"/>
<path d="M562.70 333.20 L562.70 335.80" stroke="#949494" stroke-width="0.90" fill="none"/>
<path d="M622.40 333.20 L622.40 335.80" stroke="#949494" stroke-width="0.90" fill="none"/>
<text x="413.45" y="346.00" text-anchor="middle" font-family='"Liberation Serif", serif' font-size="8.50" fill="#1a1a1a" stroke="#1a1a1a" stroke-width="0.22">Spring</text>
<text x="473.15" y="346.00" text-anchor="middle" font-family='"Liberation Serif", serif' font-size="8.50" fill="#1a1a1a" stroke="#1a1a1a" stroke-width="0.22">Summer</text>
<text x="532.85" y="346.00" text-anchor="middle" font-family='"Liberation Serif", serif' font-size="8.50" fill="#1a1a1a" stroke="#1a1a1a" stroke-width="0.22">Autumn</text>
<text x="592.55" y="346.00" text-anchor="middle" font-family='"Liberation Serif", serif' font-size="8.50" fill="#1a1a1a" stroke="#1a1a1a" stroke-width="0.22">Winter</text>
<polygon points="409.82,330.60 413.82,327.60 413.82,271.44 409.82,274.44" fill="#315075"/>
<polygon points="396.95,274.44 410.22,274.44 413.82,271.44 400.55,271.44" fill="#3f6797"/>
<rect x="396.95" y="274.44" width="13.42" height="56.16" fill="#4f81bd"/>
<polygon points="423.08,330.60 427.08,327.60 427.08,208.96 423.08,211.96" fill="#773230"/>
<polygon points="410.22,211.96 423.48,211.96 427.08,208.96 413.82,208.96" fill="#9a403e"/>
<rect x="410.22" y="211.96" width="13.42" height="118.64" fill="#c0504d"/>
<polygon points="436.35,330.60 440.35,327.60 440.35,267.93 436.35,270.93" fill="#607437"/>
<polygon points="423.48,270.93 436.75,270.93 440.35,267.93 427.08,267.93" fill="#7c9647"/>
<rect x="423.48" y="270.93" width="13.42" height="59.67" fill="#9bbb59"/>
<polygon points="469.52,330.60 473.52,327.60 473.52,267.93 469.52,270.93" fill="#315075"/>
<polygon points="456.65,270.93 469.92,270.93 473.52,267.93 460.25,267.93" fill="#3f6797"/>
<rect x="456.65" y="270.93" width="13.42" height="59.67" fill="#4f81bd"/>
<polygon points="482.78,330.60 486.78,327.60 486.78,201.24 482.78,204.24" fill="#773230"/>
<polygon points="469.92,204.24 483.18,204.24 486.78,201.24 473.52,201.24" fill="#9a403e"/>
<rect x="469.92" y="204.24" width="13.42" height="126.36" fill="#c0504d"/>
<polygon points="496.05,330.60 500.05,327.60 500.05,278.46 496.05,281.46" fill="#607437"/>
<polygon points="483.18,281.46 496.45,281.46 500.05,278.46 486.78,278.46" fill="#7c9647"/>
<rect x="483.18" y="281.46" width="13.42" height="49.14" fill="#9bbb59"/>
<polygon points="529.22,330.60 533.22,327.60 533.22,271.91 529.22,274.91" fill="#315075"/>
<polygon points="516.35,274.91 529.62,274.91 533.22,271.91 519.95,271.91" fill="#3f6797"/>
<rect x="516.35" y="274.91" width="13.42" height="55.69" fill="#4f81bd"/>
<polygon points="542.48,330.60 546.48,327.60 546.48,199.37 542.48,202.37" fill="#773230"/>
<polygon points="529.62,202.37 542.88,202.37 546.48,199.37 533.22,199.37" fill="#9a403e"/>
<rect x="529.62" y="202.37" width="13.42" height="128.23" fill="#c0504d"/>
<polygon points="555.75,330.60 559.75,327.60 559.75,276.12 555.75,279.12" fill="#607437"/>
<polygon points="542.88,279.12 556.15,279.12 559.75,276.12 546.48,276.12" fill="#7c9647"/>
<rect x="542.88" y="279.12" width="13.42" height="51.48" fill="#9bbb59"/>
<polygon points="588.92,330.60 592.92,327.60 592.92,268.40 588.92,271.40" fill="#315075"/>
<polygon points="576.05,271.40 589.32,271.40 592.92,268.40 579.65,268.40" fill="#3f6797"/>
<rect x="576.05" y="271.40" width="13.42" height="59.20" fill="#4f81bd"/>
<polygon points="602.18,330.60 606.18,327.60 606.18,210.60 602.18,213.60" fill="#773230"/>
<polygon points="589.32,213.60 602.58,213.60 606.18,210.60 592.92,210.60" fill="#9a403e"/>
<rect x="589.32" y="213.60" width="13.42" height="117.00" fill="#c0504d"/>
<polygon points="615.45,330.60 619.45,327.60 619.45,269.57 615.45,272.57" fill="#607437"/>
<polygon points="602.58,272.57 615.85,272.57 619.45,269.57 606.18,269.57" fill="#7c9647"/>
<rect x="602.58" y="272.57" width="13.42" height="58.03" fill="#9bbb59"/>
<rect x="645.60" y="240.20" width="4.50" height="3.80" fill="#4f81bd"/>
<text x="652.00" y="244.90" font-family='"Liberation Serif", serif' font-size="8.50" fill="#1a1a1a" stroke="#1a1a1a" stroke-width="0.22">Indoors</text>
<rect x="645.60" y="254.60" width="4.50" height="3.80" fill="#c0504d"/>
<text x="652.00" y="259.30" font-family='"Liberation Serif", serif' font-size="8.50" fill="#1a1a1a" stroke="#1a1a1a" stroke-width="0.22">Outdoors</text>
<rect x="645.60" y="268.90" width="4.50" height="3.80" fill="#9bbb59"/>
<text x="652.00" y="273.60" font-family='"Liberation Serif", serif' font-size="8.50" fill="#1a1a1a" stroke="#1a1a1a" stroke-width="0.22">Others</text>
<text transform="translate(350.40 259.80) rotate(-90) scale(1 0.90)" text-anchor="middle" font-family='"Liberation Serif", serif' font-size="10.00" font-weight="bold" fill="#1a1a1a">Frequency</text></g>
<g><polygon points="39.30,514.80 287.80,514.80 294.70,510.50 45.90,510.40" fill="#ffffff"/>
<path d="M45.90 510.40 L294.70 510.50" stroke="#c4c4c4" stroke-width="1.30" fill="none"/>
<path d="M39.30 515.00 L287.80 515.00" stroke="#c4c4c4" stroke-width="1.70" fill="none"/>
<path d="M287.80 514.80 L294.70 510.50" stroke="#949494" stroke-width="0.90" fill="none"/>
<path d="M39.30 517.40 L39.10 370.50" stroke="#949494" stroke-width="0.90" fill="none"/>
<path d="M36.10 514.80 L39.30 514.80" stroke="#949494" stroke-width="0.90" fill="none"/>
<path d="M39.30 514.80 L45.90 510.40" stroke="#949494" stroke-width="0.90" fill="none"/>
<text x="33.10" y="518.22" text-anchor="end" font-family='"Liberation Serif", serif' font-size="9.00" fill="#2a2a2a" stroke="#2a2a2a" stroke-width="0.18">0%</text>
<path d="M36.07 494.19 L39.27 494.19" stroke="#949494" stroke-width="0.90" fill="none"/>
<path d="M39.27 494.19 L45.80 489.76 L294.69 489.84" stroke="#949494" stroke-width="0.90" fill="none" stroke-linejoin="round"/>
<text x="33.07" y="497.70" text-anchor="end" font-family='"Liberation Serif", serif' font-size="9.00" fill="#2a2a2a" stroke="#2a2a2a" stroke-width="0.18">1%</text>
<path d="M36.04 473.57 L39.24 473.57" stroke="#949494" stroke-width="0.90" fill="none"/>
<path d="M39.24 473.57 L45.70 469.11 L294.67 469.19" stroke="#949494" stroke-width="0.90" fill="none" stroke-linejoin="round"/>
<text x="33.04" y="477.18" text-anchor="end" font-family='"Liberation Serif", serif' font-size="9.00" fill="#2a2a2a" stroke="#2a2a2a" stroke-width="0.18">2%</text>
<path d="M36.01 452.96 L39.21 452.96" stroke="#949494" stroke-width="0.90" fill="none"/>
<path d="M39.21 452.96 L45.60 448.47 L294.66 448.53" stroke="#949494" stroke-width="0.90" fill="none" stroke-linejoin="round"/>
<text x="33.01" y="456.66" text-anchor="end" font-family='"Liberation Serif", serif' font-size="9.00" fill="#2a2a2a" stroke="#2a2a2a" stroke-width="0.18">3%</text>
<path d="M35.99 432.34 L39.19 432.34" stroke="#949494" stroke-width="0.90" fill="none"/>
<path d="M39.19 432.34 L45.50 427.83 L294.64 427.87" stroke="#949494" stroke-width="0.90" fill="none" stroke-linejoin="round"/>
<text x="32.99" y="436.13" text-anchor="end" font-family='"Liberation Serif", serif' font-size="9.00" fill="#2a2a2a" stroke="#2a2a2a" stroke-width="0.18">4%</text>
<path d="M35.96 411.73 L39.16 411.73" stroke="#949494" stroke-width="0.90" fill="none"/>
<path d="M39.16 411.73 L45.40 407.19 L294.63 407.21" stroke="#949494" stroke-width="0.90" fill="none" stroke-linejoin="round"/>
<text x="32.96" y="415.61" text-anchor="end" font-family='"Liberation Serif", serif' font-size="9.00" fill="#2a2a2a" stroke="#2a2a2a" stroke-width="0.18">5%</text>
<path d="M35.93 391.11 L39.13 391.11" stroke="#949494" stroke-width="0.90" fill="none"/>
<path d="M39.13 391.11 L45.30 386.54 L294.61 386.56" stroke="#949494" stroke-width="0.90" fill="none" stroke-linejoin="round"/>
<text x="32.93" y="395.09" text-anchor="end" font-family='"Liberation Serif", serif' font-size="9.00" fill="#2a2a2a" stroke="#2a2a2a" stroke-width="0.18">6%</text>
<path d="M35.90 370.50 L39.10 370.50" stroke="#949494" stroke-width="0.90" fill="none"/>
<path d="M39.10 370.50 L45.20 365.90" stroke="#949494" stroke-width="0.90" fill="none"/>
<path d="M45.20 365.90 L294.60 365.90" stroke="#c4c4c4" stroke-width="1.30" fill="none"/>
<text x="32.90" y="374.57" text-anchor="end" font-family='"Liberation Serif", serif' font-size="9.00" fill="#2a2a2a" stroke="#2a2a2a" stroke-width="0.18">7%</text>
<path d="M101.42 514.80 L101.42 517.40" stroke="#aaaaaa" stroke-width="0.90" fill="none"/>
<path d="M163.55 514.80 L163.55 517.40" stroke="#aaaaaa" stroke-width="0.90" fill="none"/>
<path d="M225.68 514.80 L225.68 517.40" stroke="#aaaaaa" stroke-width="0.90" fill="none"/>
<path d="M287.80 514.80 L287.80 517.40" stroke="#aaaaaa" stroke-width="0.90" fill="none"/>
<text x="70.36" y="527.50" text-anchor="middle" font-family='"Liberation Serif", serif' font-size="8.50" fill="#1a1a1a" stroke="#1a1a1a" stroke-width="0.22">Spring</text>
<text x="132.49" y="527.50" text-anchor="middle" font-family='"Liberation Serif", serif' font-size="8.50" fill="#1a1a1a" stroke="#1a1a1a" stroke-width="0.22">Summer</text>
<text x="194.61" y="527.50" text-anchor="middle" font-family='"Liberation Serif", serif' font-size="8.50" fill="#1a1a1a" stroke="#1a1a1a" stroke-width="0.22">Autumn</text>
<text x="256.74" y="527.50" text-anchor="middle" font-family='"Liberation Serif", serif' font-size="8.50" fill="#1a1a1a" stroke="#1a1a1a" stroke-width="0.22">Winter</text>
<polygon points="53.75,513.10 56.25,511.30 56.25,435.08 53.75,436.88" fill="#26456c"/>
<polygon points="47.00,436.88 54.15,436.88 56.25,435.08 49.10,435.08" fill="#31598b"/>
<rect x="47.00" y="436.88" width="7.30" height="76.22" fill="url(#g4_0)"/>
<polygon points="60.90,513.10 63.40,511.30 63.40,472.16 60.90,473.96" fill="#702826"/>
<polygon points="54.15,473.96 61.30,473.96 63.40,472.16 56.25,472.16" fill="#913432"/>
<rect x="54.15" y="473.96" width="7.30" height="39.14" fill="url(#g4_1)"/>
<polygon points="68.05,513.10 70.55,511.30 70.55,492.76 68.05,494.56" fill="#576c2e"/>
<polygon points="61.30,494.56 68.45,494.56 70.55,492.76 63.40,492.76" fill="#718b3c"/>
<rect x="61.30" y="494.56" width="7.30" height="18.54" fill="url(#g4_2)"/>
<polygon points="75.20,513.10 77.70,511.30 77.70,414.48 75.20,416.28" fill="#473661"/>
<polygon points="68.45,416.28 75.60,416.28 77.70,414.48 70.55,414.48" fill="#5c467e"/>
<rect x="68.45" y="416.28" width="7.30" height="96.82" fill="url(#g4_3)"/>
<polygon points="82.35,513.10 84.85,511.30 84.85,408.30 82.35,410.10" fill="#255f71"/>
<polygon points="75.60,410.10 82.75,410.10 84.85,408.30 77.70,408.30" fill="#2f7b92"/>
<rect x="75.60" y="410.10" width="7.30" height="103.00" fill="url(#g4_4)"/>
<polygon points="89.50,513.10 92.00,511.30 92.00,369.16 89.50,370.96" fill="#8b5425"/>
<polygon points="82.75,370.96 89.90,370.96 92.00,369.16 84.85,369.16" fill="#b36d30"/>
<rect x="82.75" y="370.96" width="7.30" height="142.14" fill="url(#g4_5)"/>
<polygon points="96.65,513.10 99.15,511.30 99.15,505.12 96.65,506.92" fill="#5c6a86"/>
<polygon points="89.90,506.92 97.05,506.92 99.15,505.12 92.00,505.12" fill="#7689ad"/>
<rect x="89.90" y="506.92" width="7.30" height="6.18" fill="url(#g4_6)"/>
<polygon points="115.90,513.10 118.40,511.30 118.40,476.28 115.90,478.08" fill="#26456c"/>
<polygon points="109.10,478.08 116.30,478.08 118.40,476.28 111.20,476.28" fill="#31598b"/>
<rect x="109.10" y="478.08" width="7.35" height="35.02" fill="url(#g4_0)"/>
<polygon points="123.10,513.10 125.60,511.30 125.60,476.28 123.10,478.08" fill="#702826"/>
<polygon points="116.30,478.08 123.50,478.08 125.60,476.28 118.40,476.28" fill="#913432"/>
<rect x="116.30" y="478.08" width="7.35" height="35.02" fill="url(#g4_1)"/>
<polygon points="130.30,513.10 132.80,511.30 132.80,463.92 130.30,465.72" fill="#576c2e"/>
<polygon points="123.50,465.72 130.70,465.72 132.80,463.92 125.60,463.92" fill="#718b3c"/>
<rect x="123.50" y="465.72" width="7.35" height="47.38" fill="url(#g4_2)"/>
<polygon points="137.50,513.10 140.00,511.30 140.00,441.26 137.50,443.06" fill="#473661"/>
<polygon points="130.70,443.06 137.90,443.06 140.00,441.26 132.80,441.26" fill="#5c467e"/>
<rect x="130.70" y="443.06" width="7.35" height="70.04" fill="url(#g4_3)"/>
<polygon points="144.70,513.10 147.20,511.30 147.20,441.26 144.70,443.06" fill="#255f71"/>
<polygon points="137.90,443.06 145.10,443.06 147.20,441.26 140.00,441.26" fill="#2f7b92"/>
<rect x="137.90" y="443.06" width="7.35" height="70.04" fill="url(#g4_4)"/>
<polygon points="151.90,513.10 154.40,511.30 154.40,387.70 151.90,389.50" fill="#8b5425"/>
<polygon points="145.10,389.50 152.30,389.50 154.40,387.70 147.20,387.70" fill="#b36d30"/>
<rect x="145.10" y="389.50" width="7.35" height="123.60" fill="url(#g4_5)"/>
<polygon points="159.10,513.10 161.60,511.30 161.60,488.64 159.10,490.44" fill="#5c6a86"/>
<polygon points="152.30,490.44 159.50,490.44 161.60,488.64 154.40,488.64" fill="#7689ad"/>
<rect x="152.30" y="490.44" width="7.35" height="22.66" fill="url(#g4_6)"/>
<polygon points="178.16,513.10 180.66,511.30 180.66,494.82 178.16,496.62" fill="#26456c"/>
<polygon points="171.30,496.62 178.56,496.62 180.66,494.82 173.40,494.82" fill="#31598b"/>
<rect x="171.30" y="496.62" width="7.41" height="16.48" fill="url(#g4_0)"/>
<polygon points="185.42,513.10 187.92,511.30 187.92,484.52 185.42,486.32" fill="#702826"/>
<polygon points="178.56,486.32 185.82,486.32 187.92,484.52 180.66,484.52" fill="#913432"/>
<rect x="178.56" y="486.32" width="7.41" height="26.78" fill="url(#g4_1)"/>
<polygon points="192.68,513.10 195.18,511.30 195.18,488.64 192.68,490.44" fill="#576c2e"/>
<polygon points="185.82,490.44 193.08,490.44 195.18,488.64 187.92,488.64" fill="#718b3c"/>
<rect x="185.82" y="490.44" width="7.41" height="22.66" fill="url(#g4_2)"/>
<polygon points="199.94,513.10 202.44,511.30 202.44,455.68 199.94,457.48" fill="#473661"/>
<polygon points="193.08,457.48 200.34,457.48 202.44,455.68 195.18,455.68" fill="#5c467e"/>
<rect x="193.08" y="457.48" width="7.41" height="55.62" fill="url(#g4_3)"/>
<polygon points="207.20,513.10 209.70,511.30 209.70,455.68 207.20,457.48" fill="#255f71"/>
<polygon points="200.34,457.48 207.60,457.48 209.70,455.68 202.44,455.68" fill="#2f7b92"/>
<rect x="200.34" y="457.48" width="7.41" height="55.62" fill="url(#g4_4)"/>
<polygon points="214.46,513.10 216.96,511.30 216.96,433.02 214.46,434.82" fill="#8b5425"/>
<polygon points="207.60,434.82 214.86,434.82 216.96,433.02 209.70,433.02" fill="#b36d30"/>
<rect x="207.60" y="434.82" width="7.41" height="78.28" fill="url(#g4_5)"/>
<polygon points="221.72,513.10 224.22,511.30 224.22,510.68 221.72,512.48" fill="#5c6a86"/>
<polygon points="214.86,512.48 222.12,512.48 224.22,510.68 216.96,510.68" fill="#7689ad"/>
<rect x="214.86" y="512.48" width="7.41" height="0.62" fill="url(#g4_6)"/>
<polygon points="240.32,513.10 242.82,511.30 242.82,433.02 240.32,434.82" fill="#26456c"/>
<polygon points="233.40,434.82 240.72,434.82 242.82,433.02 235.50,433.02" fill="#31598b"/>
<rect x="233.40" y="434.82" width="7.47" height="78.28" fill="url(#g4_0)"/>
<polygon points="247.64,513.10 250.14,511.30 250.14,488.64 247.64,490.44" fill="#702826"/>
<polygon points="240.72,490.44 248.04,490.44 250.14,488.64 242.82,488.64" fill="#913432"/>
<rect x="240.72" y="490.44" width="7.47" height="22.66" fill="url(#g4_1)"/>
<polygon points="254.96,513.10 257.46,511.30 257.46,484.52 254.96,486.32" fill="#576c2e"/>
<polygon points="248.04,486.32 255.36,486.32 257.46,484.52 250.14,484.52" fill="#718b3c"/>
<rect x="248.04" y="486.32" width="7.47" height="26.78" fill="url(#g4_2)"/>
<polygon points="262.28,513.10 264.78,511.30 264.78,416.54 262.28,418.34" fill="#473661"/>
<polygon points="255.36,418.34 262.68,418.34 264.78,416.54 257.46,416.54" fill="#5c467e"/>
<rect x="255.36" y="418.34" width="7.47" height="94.76" fill="url(#g4_3)"/>
<polygon points="269.60,513.10 272.10,511.30 272.10,455.68 269.60,457.48" fill="#255f71"/>
<polygon points="262.68,457.48 270.00,457.48 272.10,455.68 264.78,455.68" fill="#2f7b92"/>
<rect x="262.68" y="457.48" width="7.47" height="55.62" fill="url(#g4_4)"/>
<polygon points="276.92,513.10 279.42,511.30 279.42,400.06 276.92,401.86" fill="#8b5425"/>
<polygon points="270.00,401.86 277.32,401.86 279.42,400.06 272.10,400.06" fill="#b36d30"/>
<rect x="270.00" y="401.86" width="7.47" height="111.24" fill="url(#g4_5)"/>
<polygon points="284.24,513.10 286.74,511.30 286.74,501.00 284.24,502.80" fill="#5c6a86"/>
<polygon points="277.32,502.80 284.64,502.80 286.74,501.00 279.42,501.00" fill="#7689ad"/>
<rect x="277.32" y="502.80" width="7.47" height="10.30" fill="url(#g4_6)"/>
<rect x="301.80" y="395.80" width="4.10" height="3.40" fill="#3d6fae"/>
<text x="308.00" y="400.30" font-family='"Liberation Serif", serif' font-size="8.50" fill="#1a1a1a" stroke="#1a1a1a" stroke-width="0.22">LLFs</text>
<rect x="301.80" y="409.90" width="4.10" height="3.40" fill="#b5413e"/>
<text x="308.00" y="414.40" font-family='"Liberation Serif", serif' font-size="8.50" fill="#1a1a1a" stroke="#1a1a1a" stroke-width="0.22">ULFs</text>
<rect x="301.80" y="423.90" width="4.10" height="3.40" fill="#8dae4b"/>
<text x="308.00" y="428.40" font-family='"Liberation Serif", serif' font-size="8.50" fill="#1a1a1a" stroke="#1a1a1a" stroke-width="0.22">PFs</text>
<rect x="301.80" y="438.00" width="4.10" height="3.40" fill="#73579d"/>
<text x="308.00" y="442.50" font-family='"Liberation Serif", serif' font-size="8.50" fill="#1a1a1a" stroke="#1a1a1a" stroke-width="0.22">RFs</text>
<rect x="301.80" y="452.10" width="4.10" height="3.40" fill="#3b9ab6"/>
<text x="308.00" y="456.60" font-family='"Liberation Serif", serif' font-size="8.50" fill="#1a1a1a" stroke="#1a1a1a" stroke-width="0.22">CCIs</text>
<rect x="301.80" y="466.20" width="4.10" height="3.40" fill="#e0883c"/>
<text x="308.00" y="470.70" font-family='"Liberation Serif", serif' font-size="8.50" fill="#1a1a1a" stroke="#1a1a1a" stroke-width="0.22">ITIs</text>
<rect x="301.80" y="480.30" width="4.10" height="3.40" fill="#94abd8"/>
<text x="308.00" y="484.80" font-family='"Liberation Serif", serif' font-size="8.50" fill="#1a1a1a" stroke="#1a1a1a" stroke-width="0.22">IAIs</text>
<text transform="translate(9.70 439.10) rotate(-90) scale(1 0.90)" text-anchor="middle" font-family='"Liberation Serif", serif' font-size="10.00" font-weight="bold" fill="#1a1a1a">Frequency</text></g>
<g><polygon points="383.50,515.20 627.60,515.20 633.80,510.60 390.20,510.60" fill="#ffffff"/>
<path d="M390.20 510.60 L633.80 510.60" stroke="#949494" stroke-width="0.90" fill="none"/>
<path d="M383.50 515.20 L627.60 515.20" stroke="#949494" stroke-width="0.90" fill="none"/>
<path d="M627.60 515.20 L633.80 510.60" stroke="#949494" stroke-width="0.90" fill="none"/>
<path d="M383.50 517.80 L383.20 369.80" stroke="#949494" stroke-width="0.90" fill="none"/>
<path d="M380.30 515.20 L383.50 515.20" stroke="#949494" stroke-width="0.90" fill="none"/>
<path d="M383.50 515.20 L390.20 510.60" stroke="#949494" stroke-width="0.90" fill="none"/>
<text x="376.70" y="518.90" text-anchor="end" font-family='"Liberation Serif", serif' font-size="8.80" fill="#2a2a2a" stroke="#2a2a2a" stroke-width="0.18">0%</text>
<path d="M380.27 500.66 L383.47 500.66" stroke="#949494" stroke-width="0.90" fill="none"/>
<path d="M383.47 500.66 L390.16 496.08 L633.80 496.08" stroke="#949494" stroke-width="0.90" fill="none" stroke-linejoin="round"/>
<text x="376.67" y="504.42" text-anchor="end" font-family='"Liberation Serif", serif' font-size="8.80" fill="#2a2a2a" stroke="#2a2a2a" stroke-width="0.18">5%</text>
<path d="M380.24 486.12 L383.44 486.12" stroke="#949494" stroke-width="0.90" fill="none"/>
<path d="M383.44 486.12 L390.12 481.56 L633.80 481.56" stroke="#949494" stroke-width="0.90" fill="none" stroke-linejoin="round"/>
<text x="376.64" y="489.94" text-anchor="end" font-family='"Liberation Serif", serif' font-size="8.80" fill="#2a2a2a" stroke="#2a2a2a" stroke-width="0.18">10%</text>
<path d="M380.21 471.58 L383.41 471.58" stroke="#949494" stroke-width="0.90" fill="none"/>
<path d="M383.41 471.58 L390.08 467.04 L633.80 467.04" stroke="#949494" stroke-width="0.90" fill="none" stroke-linejoin="round"/>
<text x="376.61" y="475.46" text-anchor="end" font-family='"Liberation Serif", serif' font-size="8.80" fill="#2a2a2a" stroke="#2a2a2a" stroke-width="0.18">15%</text>
<path d="M380.18 457.04 L383.38 457.04" stroke="#949494" stroke-width="0.90" fill="none"/>
<path d="M383.38 457.04 L390.04 452.52 L633.80 452.52" stroke="#949494" stroke-width="0.90" fill="none" stroke-linejoin="round"/>
<text x="376.58" y="460.98" text-anchor="end" font-family='"Liberation Serif", serif' font-size="8.80" fill="#2a2a2a" stroke="#2a2a2a" stroke-width="0.18">20%</text>
<path d="M380.15 442.50 L383.35 442.50" stroke="#949494" stroke-width="0.90" fill="none"/>
<path d="M383.35 442.50 L390.00 438.00 L633.80 438.00" stroke="#949494" stroke-width="0.90" fill="none" stroke-linejoin="round"/>
<text x="376.55" y="446.50" text-anchor="end" font-family='"Liberation Serif", serif' font-size="8.80" fill="#2a2a2a" stroke="#2a2a2a" stroke-width="0.18">25%</text>
<path d="M380.12 427.96 L383.32 427.96" stroke="#949494" stroke-width="0.90" fill="none"/>
<path d="M383.32 427.96 L389.96 423.48 L633.80 423.48" stroke="#949494" stroke-width="0.90" fill="none" stroke-linejoin="round"/>
<text x="376.52" y="432.02" text-anchor="end" font-family='"Liberation Serif", serif' font-size="8.80" fill="#2a2a2a" stroke="#2a2a2a" stroke-width="0.18">30%</text>
<path d="M380.09 413.42 L383.29 413.42" stroke="#949494" stroke-width="0.90" fill="none"/>
<path d="M383.29 413.42 L389.92 408.96 L633.80 408.96" stroke="#949494" stroke-width="0.90" fill="none" stroke-linejoin="round"/>
<text x="376.49" y="417.54" text-anchor="end" font-family='"Liberation Serif", serif' font-size="8.80" fill="#2a2a2a" stroke="#2a2a2a" stroke-width="0.18">35%</text>
<path d="M380.06 398.88 L383.26 398.88" stroke="#949494" stroke-width="0.90" fill="none"/>
<path d="M383.26 398.88 L389.88 394.44 L633.80 394.44" stroke="#949494" stroke-width="0.90" fill="none" stroke-linejoin="round"/>
<text x="376.46" y="403.06" text-anchor="end" font-family='"Liberation Serif", serif' font-size="8.80" fill="#2a2a2a" stroke="#2a2a2a" stroke-width="0.18">40%</text>
<path d="M380.03 384.34 L383.23 384.34" stroke="#949494" stroke-width="0.90" fill="none"/>
<path d="M383.23 384.34 L389.84 379.92 L633.80 379.92" stroke="#949494" stroke-width="0.90" fill="none" stroke-linejoin="round"/>
<text x="376.43" y="388.58" text-anchor="end" font-family='"Liberation Serif", serif' font-size="8.80" fill="#2a2a2a" stroke="#2a2a2a" stroke-width="0.18">45%</text>
<path d="M380.00 369.80 L383.20 369.80" stroke="#949494" stroke-width="0.90" fill="none"/>
<path d="M383.20 369.80 L389.80 365.40" stroke="#949494" stroke-width="0.90" fill="none"/>
<path d="M389.80 365.40 L633.80 365.40" stroke="#c4c4c4" stroke-width="1.30" fill="none"/>
<text x="376.40" y="374.10" text-anchor="end" font-family='"Liberation Serif", serif' font-size="8.80" fill="#2a2a2a" stroke="#2a2a2a" stroke-width="0.18">50%</text>
<path d="M444.52 515.20 L444.52 517.80" stroke="#949494" stroke-width="0.90" fill="none"/>
<path d="M505.55 515.20 L505.55 517.80" stroke="#949494" stroke-width="0.90" fill="none"/>
<path d="M566.58 515.20 L566.58 517.80" stroke="#949494" stroke-width="0.90" fill="none"/>
<path d="M627.60 515.20 L627.60 517.80" stroke="#949494" stroke-width="0.90" fill="none"/>
<text x="414.01" y="528.00" text-anchor="middle" font-family='"Liberation Serif", serif' font-size="8.50" fill="#1a1a1a" stroke="#1a1a1a" stroke-width="0.22">Spring</text>
<text x="475.04" y="528.00" text-anchor="middle" font-family='"Liberation Serif", serif' font-size="8.50" fill="#1a1a1a" stroke="#1a1a1a" stroke-width="0.22">Summer</text>
<text x="536.06" y="528.00" text-anchor="middle" font-family='"Liberation Serif", serif' font-size="8.50" fill="#1a1a1a" stroke="#1a1a1a" stroke-width="0.22">Autumn</text>
<text x="597.09" y="528.00" text-anchor="middle" font-family='"Liberation Serif", serif' font-size="8.50" fill="#1a1a1a" stroke="#1a1a1a" stroke-width="0.22">Winter</text>
<polygon points="397.81,513.50 400.31,512.20 400.31,497.68 397.81,498.98" fill="#26456c"/>
<polygon points="391.09,498.98 398.21,498.98 400.31,497.68 393.19,497.68" fill="#31598b"/>
<rect x="391.09" y="498.98" width="7.27" height="14.52" fill="url(#g5_0)"/>
<polygon points="404.93,513.50 407.43,512.20 407.43,428.56 404.93,429.86" fill="#702826"/>
<polygon points="398.21,429.86 405.33,429.86 407.43,428.56 400.31,428.56" fill="#913432"/>
<rect x="398.21" y="429.86" width="7.27" height="83.64" fill="url(#g5_1)"/>
<polygon points="412.05,513.50 414.55,512.20 414.55,373.39 412.05,374.69" fill="#576c2e"/>
<polygon points="405.33,374.69 412.45,374.69 414.55,373.39 407.43,373.39" fill="#718b3c"/>
<rect x="405.33" y="374.69" width="7.27" height="138.81" fill="url(#g5_2)"/>
<polygon points="419.17,513.50 421.67,512.20 421.67,509.59 419.17,510.89" fill="#473661"/>
<polygon points="412.45,510.89 419.57,510.89 421.67,509.59 414.55,509.59" fill="#5c467e"/>
<rect x="412.45" y="510.89" width="7.27" height="2.61" fill="url(#g5_3)"/>
<polygon points="426.29,513.50 428.79,512.20 428.79,511.04 426.29,512.34" fill="#255f71"/>
<polygon points="419.57,512.34 426.69,512.34 428.79,511.04 421.67,511.04" fill="#2f7b92"/>
<rect x="419.57" y="512.34" width="7.27" height="1.16" fill="url(#g5_4)"/>
<polygon points="433.41,513.50 435.91,512.20 435.91,463.41 433.41,464.71" fill="#8b5425"/>
<polygon points="426.69,464.71 433.81,464.71 435.91,463.41 428.79,463.41" fill="#b36d30"/>
<rect x="426.69" y="464.71" width="7.27" height="48.79" fill="url(#g5_5)"/>
<polygon points="440.54,513.50 443.04,512.20 443.04,433.79 440.54,435.09" fill="#5c6a86"/>
<polygon points="433.81,435.09 440.94,435.09 443.04,433.79 435.91,433.79" fill="#7689ad"/>
<rect x="433.81" y="435.09" width="7.27" height="78.41" fill="url(#g5_6)"/>
<polygon points="458.84,513.50 461.34,512.20 461.34,487.52 458.84,488.82" fill="#26456c"/>
<polygon points="452.11,488.82 459.24,488.82 461.34,487.52 454.21,487.52" fill="#31598b"/>
<rect x="452.11" y="488.82" width="7.27" height="24.68" fill="url(#g5_0)"/>
<polygon points="465.96,513.50 468.46,512.20 468.46,433.79 465.96,435.09" fill="#702826"/>
<polygon points="459.24,435.09 466.36,435.09 468.46,433.79 461.34,433.79" fill="#913432"/>
<rect x="459.24" y="435.09" width="7.27" height="78.41" fill="url(#g5_1)"/>
<polygon points="473.08,513.50 475.58,512.20 475.58,374.84 473.08,376.14" fill="#576c2e"/>
<polygon points="466.36,376.14 473.48,376.14 475.58,374.84 468.46,374.84" fill="#718b3c"/>
<rect x="466.36" y="376.14" width="7.27" height="137.36" fill="url(#g5_2)"/>
<polygon points="480.20,513.50 482.70,512.20 482.70,510.60 480.20,511.90" fill="#473661"/>
<polygon points="473.48,511.90 480.60,511.90 482.70,510.60 475.58,510.60" fill="#5c467e"/>
<rect x="473.48" y="511.90" width="7.27" height="1.60" fill="url(#g5_3)"/>
<polygon points="487.32,513.50 489.82,512.20 489.82,511.18 487.32,512.48" fill="#255f71"/>
<polygon points="480.60,512.48 487.72,512.48 489.82,511.18 482.70,511.18" fill="#2f7b92"/>
<rect x="480.60" y="512.48" width="7.27" height="1.02" fill="url(#g5_4)"/>
<polygon points="494.44,513.50 496.94,512.20 496.94,465.74 494.44,467.04" fill="#8b5425"/>
<polygon points="487.72,467.04 494.84,467.04 496.94,465.74 489.82,465.74" fill="#b36d30"/>
<rect x="487.72" y="467.04" width="7.27" height="46.46" fill="url(#g5_5)"/>
<polygon points="501.56,513.50 504.06,512.20 504.06,457.02 501.56,458.32" fill="#5c6a86"/>
<polygon points="494.84,458.32 501.96,458.32 504.06,457.02 496.94,457.02" fill="#7689ad"/>
<rect x="494.84" y="458.32" width="7.27" height="55.18" fill="url(#g5_6)"/>
<polygon points="519.86,513.50 522.36,512.20 522.36,491.87 519.86,493.17" fill="#26456c"/>
<polygon points="513.14,493.17 520.26,493.17 522.36,491.87 515.24,491.87" fill="#31598b"/>
<rect x="513.14" y="493.17" width="7.27" height="20.33" fill="url(#g5_0)"/>
<polygon points="526.98,513.50 529.48,512.20 529.48,413.46 526.98,414.76" fill="#702826"/>
<polygon points="520.26,414.76 527.38,414.76 529.48,413.46 522.36,413.46" fill="#913432"/>
<rect x="520.26" y="414.76" width="7.27" height="98.74" fill="url(#g5_1)"/>
<polygon points="534.10,513.50 536.60,512.20 536.60,396.62 534.10,397.92" fill="#576c2e"/>
<polygon points="527.38,397.92 534.50,397.92 536.60,396.62 529.48,396.62" fill="#718b3c"/>
<rect x="527.38" y="397.92" width="7.27" height="115.58" fill="url(#g5_2)"/>
<polygon points="541.22,513.50 543.72,512.20 543.72,511.04 541.22,512.34" fill="#473661"/>
<polygon points="534.50,512.34 541.62,512.34 543.72,511.04 536.60,511.04" fill="#5c467e"/>
<rect x="534.50" y="512.34" width="7.27" height="1.16" fill="url(#g5_3)"/>
<polygon points="548.34,513.50 550.84,512.20 550.84,511.62 548.34,512.92" fill="#255f71"/>
<polygon points="541.62,512.92 548.74,512.92 550.84,511.62 543.72,511.62" fill="#2f7b92"/>
<rect x="541.62" y="512.92" width="7.27" height="0.58" fill="url(#g5_4)"/>
<polygon points="555.46,513.50 557.96,512.20 557.96,457.60 555.46,458.90" fill="#8b5425"/>
<polygon points="548.74,458.90 555.86,458.90 557.96,457.60 550.84,457.60" fill="#b36d30"/>
<rect x="548.74" y="458.90" width="7.27" height="54.60" fill="url(#g5_5)"/>
<polygon points="562.59,513.50 565.09,512.20 565.09,459.93 562.59,461.23" fill="#5c6a86"/>
<polygon points="555.86,461.23 562.99,461.23 565.09,459.93 557.96,459.93" fill="#7689ad"/>
<rect x="555.86" y="461.23" width="7.27" height="52.27" fill="url(#g5_6)"/>
<polygon points="580.89,513.50 583.39,512.20 583.39,494.78 580.89,496.08" fill="#26456c"/>
<polygon points="574.16,496.08 581.29,496.08 583.39,494.78 576.26,494.78" fill="#31598b"/>
<rect x="574.16" y="496.08" width="7.27" height="17.42" fill="url(#g5_0)"/>
<polygon points="588.01,513.50 590.51,512.20 590.51,401.27 588.01,402.57" fill="#702826"/>
<polygon points="581.29,402.57 588.41,402.57 590.51,401.27 583.39,401.27" fill="#913432"/>
<rect x="581.29" y="402.57" width="7.27" height="110.93" fill="url(#g5_1)"/>
<polygon points="595.13,513.50 597.63,512.20 597.63,390.23 595.13,391.53" fill="#576c2e"/>
<polygon points="588.41,391.53 595.53,391.53 597.63,390.23 590.51,390.23" fill="#718b3c"/>
<rect x="588.41" y="391.53" width="7.27" height="121.97" fill="url(#g5_2)"/>
<polygon points="602.25,513.50 604.75,512.20 604.75,511.47 602.25,512.77" fill="#473661"/>
<polygon points="595.53,512.77 602.65,512.77 604.75,511.47 597.63,511.47" fill="#5c467e"/>
<rect x="595.53" y="512.77" width="7.27" height="0.73" fill="url(#g5_3)"/>
<polygon points="609.37,513.50 611.87,512.20 611.87,511.62 609.37,512.92" fill="#255f71"/>
<polygon points="602.65,512.92 609.77,512.92 611.87,511.62 604.75,511.62" fill="#2f7b92"/>
<rect x="602.65" y="512.92" width="7.27" height="0.58" fill="url(#g5_4)"/>
<polygon points="616.49,513.50 618.99,512.20 618.99,472.42 616.49,473.72" fill="#8b5425"/>
<polygon points="609.77,473.72 616.89,473.72 618.99,472.42 611.87,472.42" fill="#b36d30"/>
<rect x="609.77" y="473.72" width="7.27" height="39.78" fill="url(#g5_5)"/>
<polygon points="623.61,513.50 626.11,512.20 626.11,465.16 623.61,466.46" fill="#5c6a86"/>
<polygon points="616.89,466.46 624.01,466.46 626.11,465.16 618.99,465.16" fill="#7689ad"/>
<rect x="616.89" y="466.46" width="7.27" height="47.04" fill="url(#g5_6)"/>
<rect x="645.30" y="397.60" width="4.50" height="3.80" fill="#3d6fae"/>
<text x="652.00" y="402.30" font-family='"Liberation Serif", serif' font-size="8.50" fill="#1a1a1a" stroke="#1a1a1a" stroke-width="0.22">C</text>
<rect x="645.30" y="409.70" width="4.50" height="3.80" fill="#b5413e"/>
<text x="652.00" y="414.40" font-family='"Liberation Serif", serif' font-size="8.50" fill="#1a1a1a" stroke="#1a1a1a" stroke-width="0.22">T</text>
<rect x="645.30" y="422.00" width="4.50" height="3.80" fill="#8dae4b"/>
<text x="652.00" y="426.70" font-family='"Liberation Serif", serif' font-size="8.50" fill="#1a1a1a" stroke="#1a1a1a" stroke-width="0.22">L</text>
<rect x="645.30" y="434.30" width="4.50" height="3.80" fill="#73579d"/>
<text x="652.00" y="439.00" font-family='"Liberation Serif", serif' font-size="8.50" fill="#1a1a1a" stroke="#1a1a1a" stroke-width="0.22">C+T</text>
<rect x="645.30" y="446.40" width="4.50" height="3.80" fill="#3b9ab6"/>
<text x="652.00" y="451.10" font-family='"Liberation Serif", serif' font-size="8.50" fill="#1a1a1a" stroke="#1a1a1a" stroke-width="0.22">C+L</text>
<rect x="645.30" y="458.70" width="4.50" height="3.80" fill="#e0883c"/>
<text x="652.00" y="463.40" font-family='"Liberation Serif", serif' font-size="8.50" fill="#1a1a1a" stroke="#1a1a1a" stroke-width="0.22">T+L</text>
<rect x="645.30" y="471.00" width="4.50" height="3.80" fill="#94abd8"/>
<text x="652.00" y="475.70" font-family='"Liberation Serif", serif' font-size="8.50" fill="#1a1a1a" stroke="#1a1a1a" stroke-width="0.22">NSFs</text>
<text transform="translate(350.10 441.70) rotate(-90) scale(1 0.90)" text-anchor="middle" font-family='"Liberation Serif", serif' font-size="10.00" font-weight="bold" fill="#1a1a1a">Frequency</text></g>
</svg>
</body></html>
